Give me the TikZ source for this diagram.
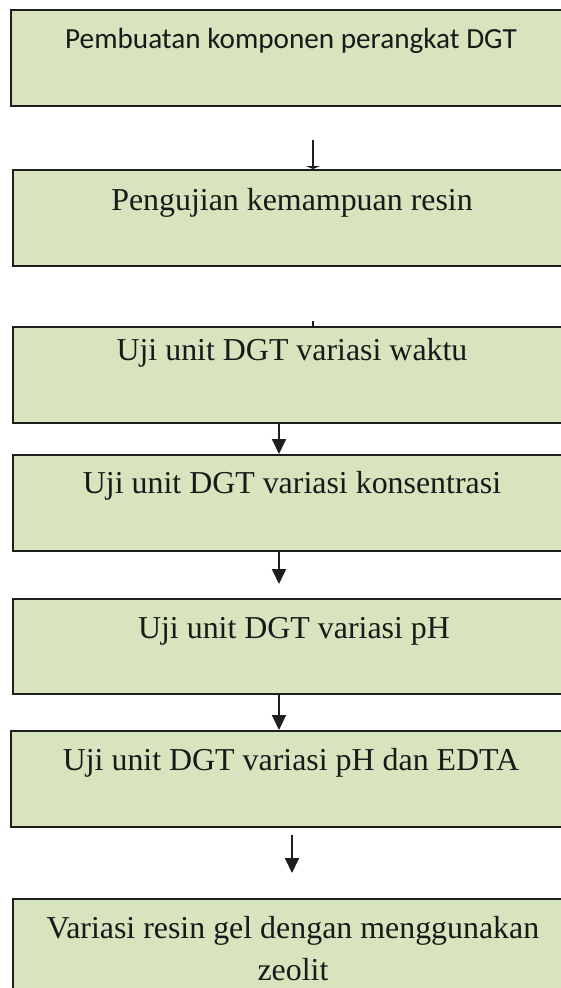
\documentclass[tikz,border=0pt]{standalone}
\usepackage{fontspec}
\setmainfont{Liberation Serif}
\newfontfamily\calfont{Carlito}
\usetikzlibrary{arrows.meta}
\definecolor{boxfill}{HTML}{D7E4BD}
\definecolor{boxline}{HTML}{1E1E1E}
\tikzset{
  stepbox/.style={draw=boxline, line width=1.8pt, fill=boxfill, rectangle,
    minimum width=564pt, minimum height=96pt, inner sep=0pt, anchor=north west},
  label serif/.style={anchor=base, inner sep=0pt, font=\fontsize{31.9}{42}\selectfont, align=center, text=black!90},
  label sans/.style={anchor=base, inner sep=0pt, font=\calfont\fontsize{29.2}{36}\selectfont, text=black!90},
  flow/.style={draw=boxline, line width=1.8pt, -{Triangle[length=15pt,width=14pt]}},
  flatflow/.style={draw=boxline, line width=1.8pt, -{Triangle[length=3pt,width=14pt]}},
}
\begin{document}
\begin{tikzpicture}[x=1pt,y=-1pt]
\clip (0,0) rectangle (561,988);
\fill[white] (0,0) rectangle (561,988);
% boxes
\node[stepbox] (b1) at (10,9) {};
\node[stepbox] (b2) at (12,169) {};
\node[stepbox] (b3) at (12,326) {};
\node[stepbox] (b4) at (12,454) {};
\node[stepbox, minimum height=95pt] (b5) at (12,598) {};
\node[stepbox] (b6) at (10,730) {};
\node[stepbox, minimum height=110pt] (b7) at (12,898) {};
% texts
\node[label sans]  (t1) at (291,48)  {Pembuatan komponen perangkat DGT};
\node[label serif] (t2) at (292,210) {Pengujian kemampuan resin};
\node[label serif] (t3) at (292,360) {Uji unit DGT variasi waktu};
\node[label serif] (t4) at (292,493) {Uji unit DGT variasi konsentrasi};
\node[label serif] (t5) at (294,638) {Uji unit DGT variasi pH};
\node[label serif] (t6) at (291,770) {Uji unit DGT variasi pH dan EDTA};
\node[label serif] (t7) at (293,980) {Variasi resin gel dengan menggunakan\\zeolit};
% connector start / free end points
\coordinate (a1s) at (313,140);
\coordinate (a2s) at (313,321);
\coordinate (a3s) at (279,422);
\coordinate (a4s) at (279,550);
\coordinate (a4e) at (279,584);
\coordinate (a5s) at (279,693);
\coordinate (a6s) at (292,835);
\coordinate (a6e) at (292,873);
% connectors
\draw[flatflow] (a1s) -- (a1s |- b2.north);
\draw[draw=boxline, line width=1.8pt] (a2s) -- (a2s |- b3.north);
\draw[flow] (a3s) -- (a3s |- b4.north);
\draw[flow] (a4s) -- (a4e);
\draw[flow] (a5s) -- (a5s |- b6.north);
\draw[flow] (a6s) -- (a6e);
\end{tikzpicture}
\end{document}
